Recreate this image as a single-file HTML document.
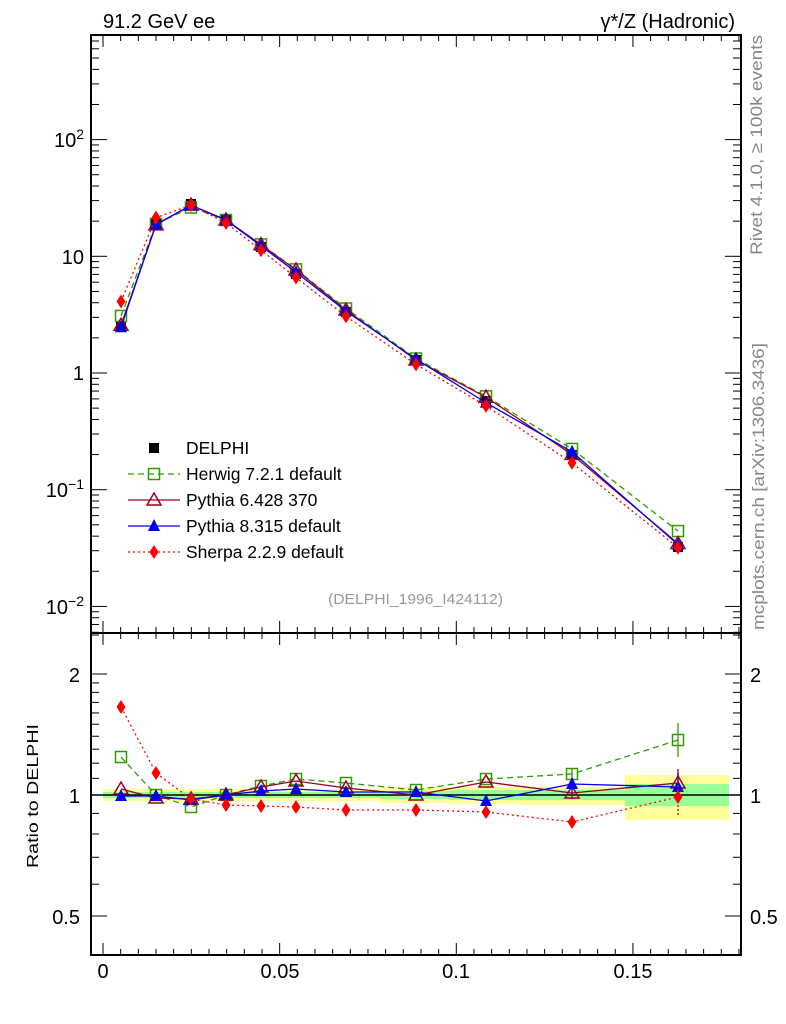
<!DOCTYPE html><html><head><style>body{margin:0;background:#fff}svg{display:block}text{font-family:"Liberation Sans",sans-serif}</style></head><body>
<svg id="s" width="786" height="1024" xmlns="http://www.w3.org/2000/svg">
<g id="bands"></g>
<g id="ticks" stroke="#000" stroke-width="1"></g>
<line x1="91" y1="795" x2="741" y2="795" stroke="#000" stroke-width="1.5"/>
<g id="series"></g>
<rect x="91" y="35" width="650" height="598" fill="none" stroke="#000" stroke-width="2"/>
<rect x="91" y="633" width="650" height="322" fill="none" stroke="#000" stroke-width="2"/>
<text x="103" y="28" font-size="20">91.2 GeV ee</text>
<text x="735" y="28" font-size="20" text-anchor="end">γ*/Z (Hadronic)</text>
<g font-size="20" text-anchor="end">
<text x="84" y="147">10<tspan font-size="14" dy="-8">2</tspan></text>
<text x="84" y="264">10</text><text x="84" y="380">1</text>
<text x="84" y="497">10<tspan font-size="14" dy="-8">−1</tspan></text>
<text x="84" y="614">10<tspan font-size="14" dy="-8">−2</tspan></text>
<text x="80" y="682">2</text><text x="80" y="803">1</text><text x="80" y="924">0.5</text>
</g>
<g font-size="20"><text x="750" y="682">2</text><text x="750" y="803">1</text><text x="750" y="924">0.5</text></g>
<g font-size="20" text-anchor="middle"><text x="103" y="978">0</text><text x="280" y="978">0.05</text><text x="456" y="978">0.1</text><text x="633" y="978">0.15</text></g>
<text x="328" y="604" font-size="15" fill="#999" textLength="175" lengthAdjust="spacingAndGlyphs">(DELPHI_1996_I424112)</text>
<text transform="translate(38,868) rotate(-90)" font-size="16" textLength="144" lengthAdjust="spacingAndGlyphs">Ratio to DELPHI</text>
<text transform="translate(762,255) rotate(-90)" font-size="17" fill="#888" textLength="220" lengthAdjust="spacingAndGlyphs">Rivet 4.1.0, ≥ 100k events</text>
<text transform="translate(764,630) rotate(-90)" font-size="17" fill="#888" textLength="287" lengthAdjust="spacingAndGlyphs">mcplots.cern.ch [arXiv:1306.3436]</text>
<g font-size="17.5"><text x="186" y="454">DELPHI</text><text x="186" y="480">Herwig 7.2.1 default</text><text x="186" y="506">Pythia 6.428 370</text><text x="186" y="532">Pythia 8.315 default</text><text x="186" y="558">Sherpa 2.2.9 default</text></g>
<g id="leg"></g>
</svg>
<script>
const NS="http://www.w3.org/2000/svg";
function el(p,t,a){const e=document.createElementNS(NS,t);for(const k in a)e.setAttribute(k,a[k]);p.appendChild(e);return e;}
const T=document.getElementById('ticks'),B=document.getElementById('bands'),S=document.getElementById('series'),L=document.getElementById('leg');
for(let i=0;i<=36;i++){const x=103+3533*i*0.005,l=(i%10==0)?12:6;if(x>741)break;
 for(const y of [35,633]){el(T,'line',{x1:x,y1:y,x2:x,y2:y+l});}
 el(T,'line',{x1:x,y1:633,x2:x,y2:633-l});el(T,'line',{x1:x,y1:955,x2:x,y2:955-l});}
for(let d=-3;d<=2;d++)for(let m=1;m<10;m++){const y=373-116.7*(d+Math.log10(m));if(y<35||y>633)continue;const l=m==1?16:8;
 el(T,'line',{x1:91,y1:y,x2:91+l,y2:y});el(T,'line',{x1:741,y1:y,x2:741-l,y2:y});}
const rv=[0.4,0.5,0.6,0.7,0.8,0.9,1,1.1,1.2,1.3,1.4,1.5,1.6,1.7,1.8,1.9,2,2.5];
for(const r of rv){const y=795-402*Math.log10(r);if(y<633||y>955)continue;const l=([0.5,1,2].includes(r))?16:8;
 el(T,'line',{x1:91,y1:y,x2:91+l,y2:y});el(T,'line',{x1:741,y1:y,x2:741-l,y2:y});}
const X=[121,156,191,226,261,296,346,416,486,572,678];
const edges=[103,138,174,209,244,280,315,380,450,520,625,729];
const yel=[[789,801],[789,801],[789,801],[789,801],[789,801],[789,801],[789,801],[787,803],[787,804],[787,805],[775,820]];
const grn=[[792,798],[792,798],[792,798],[792,798],[792,798],[792,798],[792,798],[791,799],[790,800],[790,800],[784,806]];
for(let i=0;i<11;i++){el(B,'rect',{x:edges[i],y:yel[i][0],width:edges[i+1]-edges[i],height:yel[i][1]-yel[i][0],fill:'#ffff99'});}
for(let i=0;i<11;i++){el(B,'rect',{x:edges[i],y:grn[i][0],width:edges[i+1]-edges[i],height:grn[i][1]-grn[i][0],fill:'#99ff99'});}
const D=[327,224,204,220,247,274,312,360,401,455,547];
const R={h:[757,795,807,795,786,779,783,790,779,774,740],p6:[789,798,799,795,787,781,788,795,782,793,783],p8:[796,796,800,795,791,789,792,792,801,784,787],s:[707,773,799,805,806,807,810,810,812,822,797]};
const st={h:{c:'#339900',d:'6,4',m:'sq'},p6:{c:'#990022',d:'',m:'tri'},p8:{c:'#0000ee',d:'',m:'ftri'},s:{c:'#ff0000',d:'2,3',m:'dia'}};
function mk(g,m,c,x,y){if(m=='sq')el(g,'rect',{x:x-5.5,y:y-5.5,width:11,height:11,fill:'none',stroke:c,'stroke-width':1.5});
 else if(m=='tri')el(g,'polygon',{points:`${x},${y-7} ${x-7},${y+5} ${x+7},${y+5}`,fill:'none',stroke:c,'stroke-width':1.5});
 else if(m=='ftri')el(g,'polygon',{points:`${x},${y-7} ${x-6},${y+5} ${x+6},${y+5}`,fill:c});
 else if(m=='dia')el(g,'polygon',{points:`${x},${y-7} ${x-4.5},${y} ${x},${y+7} ${x+4.5},${y}`,fill:c});
 else el(g,'rect',{x:x-5,y:y-5,width:10,height:10,fill:c});}
for(let i=0;i<11;i++)mk(S,'d','#000',X[i],D[i]);
for(const k of ['h','p6','p8','s']){const s=st[k];const my=R[k].map((r,i)=>D[i]-0.29*(795-r));
 el(S,'polyline',{points:X.map((x,i)=>x+','+my[i]).join(' '),fill:'none',stroke:s.c,'stroke-width':1.3,'stroke-dasharray':s.d});
 el(S,'polyline',{points:X.map((x,i)=>x+','+R[k][i]).join(' '),fill:'none',stroke:s.c,'stroke-width':1.3,'stroke-dasharray':s.d});
 for(let i=0;i<11;i++){mk(S,s.m,s.c,X[i],my[i]);mk(S,s.m,s.c,X[i],R[k][i]);}
 const e=i=>i==10?(k=='h'?17:k=='s'?20:14):(i==9?6:0);
 for(const i of [9,10]){el(S,'line',{x1:X[i],y1:R[k][i]-e(i),x2:X[i],y2:R[k][i]+e(i),stroke:s.c,'stroke-width':1.3,'stroke-dasharray':k=='s'?'2,2':''});}
}
const ly=[448,474,500,526,552],lk=[null,'h','p6','p8','s'];
mk(L,'d','#000',154,ly[0]);
for(let j=1;j<5;j++){const s=st[lk[j]];el(L,'line',{x1:128,y1:ly[j],x2:180,y2:ly[j],stroke:s.c,'stroke-width':1.3,'stroke-dasharray':s.d});mk(L,s.m,s.c,154,ly[j]);}
</script>
</body></html>
